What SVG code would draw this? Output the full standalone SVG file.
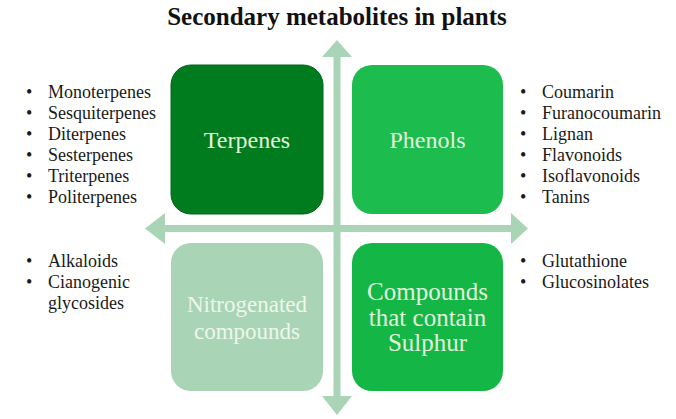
<svg xmlns="http://www.w3.org/2000/svg" width="676" height="419" viewBox="0 0 676 419">
<style>
  .title { font-family: "Liberation Serif", serif; font-weight: bold; font-size: 25px; fill: #111; }
  .item { font-family: "Liberation Serif", serif; font-size: 18px; fill: #1a1a1a; }
  .lbl { font-family: "Liberation Serif", serif; font-size: 24px; text-anchor: middle; }
  .axis { fill: #a9d4b6; }
</style>
<rect width="676" height="419" fill="#ffffff"/>
<text class="title" x="337" y="25" text-anchor="middle">Secondary metabolites in plants</text>

<g id="connectors">
  <rect class="axis" x="333.5" y="55" width="7" height="343"/>
  <polygon class="axis" points="337,40 322,57 352,57"/>
  <polygon class="axis" points="337,415 322,396 352,396"/>
  <rect class="axis" x="163" y="225" width="350" height="7"/>
  <polygon class="axis" points="145,228.5 165,213 165,244"/>
  <polygon class="axis" points="528,228.5 511,213 511,244"/>
</g>

<g id="terpenes">
  <rect x="171" y="65" width="152" height="149" rx="20" fill="#007b1d" stroke="#00661a" stroke-width="1"/>
  <text class="lbl" x="247" y="148" fill="#e3f3dc">Terpenes</text>
</g>
<g id="phenols">
  <rect x="352" y="65" width="151" height="149" rx="20" fill="#1dbc4f"/>
  <text class="lbl" x="427.5" y="148" fill="#e3f3dc">Phenols</text>
</g>
<g id="nitrogenated">
  <rect x="171" y="243" width="152" height="148" rx="20" fill="#a9d4b6"/>
  <text class="lbl" x="247" y="312" fill="#eef7ea" style="font-size:23px">Nitrogenated</text>
  <text class="lbl" x="247" y="339" fill="#eef7ea" style="font-size:23px">compounds</text>
</g>
<g id="sulphur">
  <rect x="352" y="243" width="151" height="148" rx="20" fill="#14b646"/>
  <text class="lbl" x="427.5" y="300" fill="#e3f3dc" style="font-size:25px">Compounds</text>
  <text class="lbl" x="427.5" y="326" fill="#e3f3dc" style="font-size:25px">that contain</text>
  <text class="lbl" x="427.5" y="351" fill="#e3f3dc" style="font-size:25px">Sulphur</text>
</g>

<g id="terpenes-list" class="item">
  <text x="26" y="98">•</text><text x="48" y="98">Monoterpenes</text>
  <text x="26" y="119">•</text><text x="48" y="119">Sesquiterpenes</text>
  <text x="26" y="140">•</text><text x="48" y="140">Diterpenes</text>
  <text x="26" y="161">•</text><text x="48" y="161">Sesterpenes</text>
  <text x="26" y="182">•</text><text x="48" y="182">Triterpenes</text>
  <text x="26" y="203">•</text><text x="48" y="203">Politerpenes</text>
</g>
<g id="nitrogenated-list" class="item">
  <text x="26" y="267">•</text><text x="48" y="267">Alkaloids</text>
  <text x="26" y="288">•</text><text x="48" y="288">Cianogenic</text>
  <text x="48" y="309">glycosides</text>
</g>
<g id="phenols-list" class="item">
  <text x="520" y="98">•</text><text x="542" y="98">Coumarin</text>
  <text x="520" y="119">•</text><text x="542" y="119">Furanocoumarin</text>
  <text x="520" y="140">•</text><text x="542" y="140">Lignan</text>
  <text x="520" y="161">•</text><text x="542" y="161">Flavonoids</text>
  <text x="520" y="182">•</text><text x="542" y="182">Isoflavonoids</text>
  <text x="520" y="203">•</text><text x="542" y="203">Tanins</text>
</g>
<g id="sulphur-list" class="item">
  <text x="520" y="267">•</text><text x="542" y="267">Glutathione</text>
  <text x="520" y="288">•</text><text x="542" y="288">Glucosinolates</text>
</g>
</svg>
